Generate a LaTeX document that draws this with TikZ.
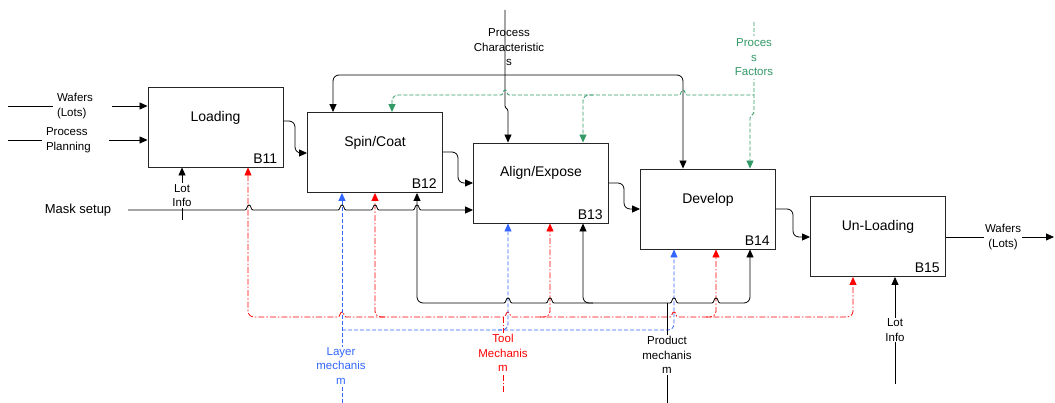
\documentclass[tikz,border=0pt]{standalone}
\usepackage{fontspec}
\setmainfont{Liberation Sans}
\usetikzlibrary{arrows.meta}
\definecolor{cblue}{RGB}{51,102,255}
\definecolor{cred}{RGB}{255,0,0}
\definecolor{cgreen}{RGB}{51,153,102}
\begin{document}
\begin{tikzpicture}[x=1pt,y=-1pt,
  >={Triangle[length=8pt,width=7pt]},
  box/.style={draw=black!85, line width=0.9pt, minimum width=135pt, minimum height=80pt, inner sep=0pt},
  ttl/.style={font=\fontsize{14}{16}\selectfont, inner sep=1pt},
  num/.style={font=\fontsize{14}{16}\selectfont, anchor=base east, inner sep=0pt},
  lbl/.style={font=\fontsize{11.5}{14.5}\selectfont, align=center, inner sep=1pt},
  flow/.style={line width=0.8pt, rounded corners=6pt},
  bluel/.style={flow, draw=cblue, fill=none, dash pattern=on 4pt off 2pt},
  redl/.style={flow, draw=cred, dash pattern=on 6pt off 2pt on 1.5pt off 2pt},
  greenl/.style={flow, draw=cgreen, dash pattern=on 4pt off 2pt},
  hop/.style 2 args={insert path={-- (#1-4,#2) .. controls (#1-1.5,#2) and (#1-2.5,#2-5) .. (#1,#2-5) .. controls (#1+2.5,#2-5) and (#1+1.5,#2) .. (#1+4,#2)}}
]
\useasboundingbox (0,0) rectangle (1055,403);

% boxes
\node[box] (b11) at (215.5,127) {};
\node[box] (b12) at (375,152.5) {};
\node[box] (b13) at (541,183) {};
\node[box] (b14) at (708,209) {};
\node[box] (b15) at (878,236.5) {};
\node[ttl] (t11) at (215.5,118) {Loading};
\node[ttl] (t12) at (375,143) {Spin/Coat};
\node[ttl] (t13) at (541,173) {Align/Expose};
\node[ttl] (t14) at (708,200) {Develop};
\node[ttl] (t15) at (878,227) {Un-Loading};
\node[num] (n11) at ([shift={(-6,-4)}]b11.south east) {B11};
\node[num] (n12) at ([shift={(-6,-4)}]b12.south east) {B12};
\node[num] (n13) at ([shift={(-6,-4)}]b13.south east) {B13};
\node[num] (n14) at ([shift={(-6,-4)}]b14.south east) {B14};
\node[num] (n15) at ([shift={(-6,-4)}]b15.south east) {B15};

% inputs on the left
\coordinate (win) at (8,106);
\draw[flow,->] (win) -- (b11.west |- win);
\coordinate (pin) at (8,140);
\draw[flow,->] (pin) -- (b11.west |- pin);

% main flow
\draw[flow,->] (b11.east |- 0,121) -- (295,121) -- (295,153) -- (b12.west |- 0,153);
\draw[flow,->] (b12.east |- 0,152) -- (458,152) -- (458,183) -- (b13.west |- 0,183);
\draw[flow,->] (b13.east |- 0,183) -- (624,183) -- (624,209) -- (b14.west |- 0,209);
\draw[flow,->] (b14.east |- 0,209) -- (793,209) -- (793,237) -- (b15.west |- 0,237);
\coordinate (wout) at (1054,237);
\draw[flow,->] (b15.east |- wout) -- (wout);

% lot info
\coordinate (li1) at (182,220);
\draw[flow,->] (li1) -- (b11.south -| li1);
\coordinate (li2) at (895,384);
\draw[flow,->] (li2) -- (b15.south -| li2);

% top black loop and process characteristics
\draw[flow,<->] (b12.north -| 333,0) -- (333,75) -- (683,75) -- (b14.north -| 683,0);
\coordinate (pc) at (505,10);
\draw[flow,rounded corners=1pt,->] (pc) -- (505,107) -- (508,110) -- (b13.north -| 508,0);

% green process factors
\coordinate (pf) at (754,22);
\draw[greenl,rounded corners=1pt,->] (pf) -- (754,113) -- (750,117) -- (b14.north -| 750,0);
\draw[greenl,<-] (b12.north -| 392,0) -- (392,95) -- (450,95) [sharp corners] [hop={505}{95}] [hop={683}{95}] -- (754,95);
\draw[greenl,->] (593,95) -- (583,95) -- (b13.north -| 583,0);

% red tool mechanism
\draw[redl,<->] (b11.south -| 248,0) -- (248,317) -- (300,317) [sharp corners] [hop={342}{317}] [hop={508}{317}] [hop={674}{317}] -- (800,317) [rounded corners=6pt] -- (853,317) -- (b15.south -| 853,0);
\draw[redl,->] (385,317) -- (375,317) -- (b12.south -| 375,0);
\draw[redl,->] (540,317) -- (550,317) -- (b13.south -| 550,0);
\draw[redl,->] (706,317) -- (716,317) -- (b14.south -| 716,0);
\coordinate (tool) at (503,392);
\draw[redl] (tool) -- (503,317);

% blue layer mechanism
\coordinate (layer) at (342,403);
\draw[bluel,->] (layer) -- (b12.south -| layer);
\draw[bluel,->] (342,330) -- (674,330) -- (b14.south -| 674,0);
\draw[bluel,->] (498,330) -- (508,330) -- (b13.south -| 508,0);

% black product mechanism
\draw[flow,<->] (b12.south -| 417,0) -- (417,303) -- (460,303) [sharp corners] [hop={508}{303}] [hop={550}{303}] [hop={674}{303}] [hop={716}{303}] -- (735,303) [rounded corners=6pt] -- (750,303) -- (b14.south -| 750,0);
\draw[flow,->] (593,303) -- (583,303) -- (b13.south -| 583,0);
\coordinate (prod) at (667,403);
\draw[flow] (prod) -- (667,303);

% labels
\node[lbl, fill=white, text width=51pt, align=left, inner xsep=4pt] (lwin) at (82.5,106) {Wafers\\(Lots)};
\node[lbl, fill=white, text width=59pt, align=left, inner xsep=4pt] (lpin) at (75.5,140) {Process\\Planning};
\node[lbl, fill=white] (lwout) at (1003,237) {Wafers\\(Lots)};
\node[lbl, fill=white] (lli1) at (182,195.5) {Lot\\Info};
\node[lbl, fill=white] (lli2) at (895,330) {Lot\\Info};
\node[lbl] (lpc) at (509,47.5) {Process\\Characteristic\\s};
\node[lbl, fill=white, text=cgreen, inner ysep=3pt] (lpf) at (754,57.5) {Proces\\s\\Factors};
\node[lbl, fill=white, text=cred] (ltool) at (503,353) {Tool\\Mechanis\\m};
\node[lbl, fill=white, text=cblue] (llayer) at (341,366) {Layer\\mechanis\\m};
\node[lbl, fill=white] (lprod) at (667,355) {Product\\mechanis\\m};

% mask setup
\node[font=\fontsize{13}{15}\selectfont, inner sep=1pt] (lmask) at (78,210) {Mask setup};
\coordinate (mask) at (128,210);
\draw[flow,sharp corners,->] (mask) [hop={249}{210}] [hop={342}{210}] [hop={375}{210}] [hop={417}{210}] -- (b13.west |- mask);
\end{tikzpicture}
\end{document}
